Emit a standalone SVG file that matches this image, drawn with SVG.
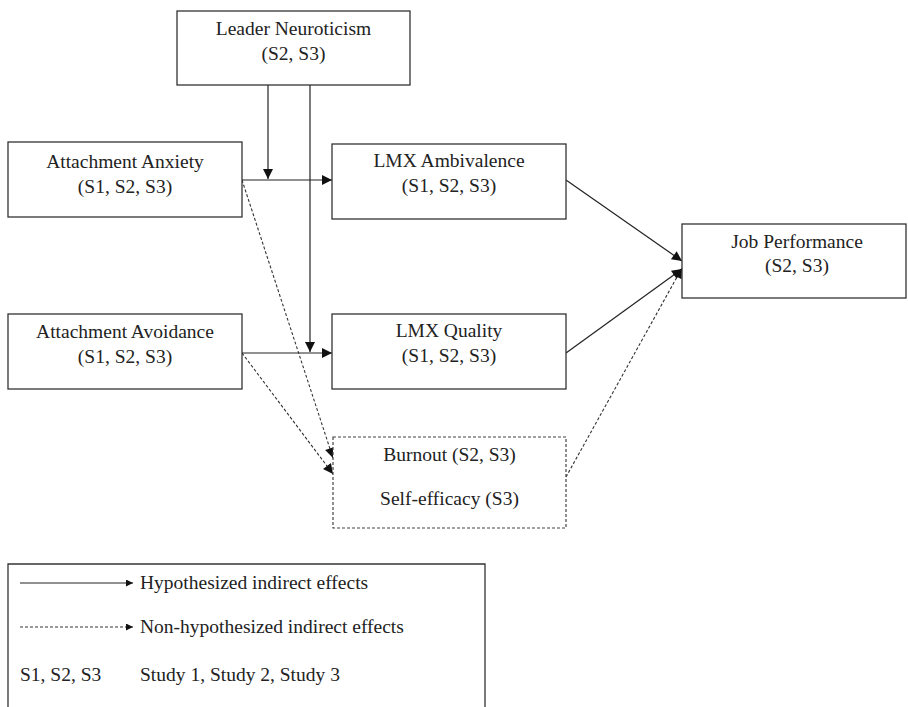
<svg xmlns="http://www.w3.org/2000/svg" width="908" height="707" viewBox="0 0 908 707">
<style>
.box{fill:#fff;stroke:#333;stroke-width:1.3}
.dbox{fill:#fff;stroke:#444;stroke-width:1.2;stroke-dasharray:3 2}
.t{font-family:"Liberation Serif","Times New Roman",serif;font-size:19.5px;fill:#222;text-anchor:middle}
.lt{font-family:"Liberation Serif","Times New Roman",serif;font-size:19.5px;fill:#222}
.c{fill:none;stroke:#222;stroke-width:1.2}
.d{fill:none;stroke:#333;stroke-width:1.1;stroke-dasharray:3 2}
</style>
<defs>
<marker id="ah" viewBox="0 0 10 10" refX="10" refY="5" markerWidth="12" markerHeight="10" markerUnits="userSpaceOnUse" orient="auto">
<path d="M0,0 L10,5 L0,10 z" fill="#111"/>
</marker>
<marker id="ahs" viewBox="0 0 10 10" refX="10" refY="5" markerWidth="9" markerHeight="7" markerUnits="userSpaceOnUse" orient="auto">
<path d="M0,0 L10,5 L0,10 z" fill="#111"/>
</marker>
</defs>
<g id="connectors">
<line class="c" x1="268" y1="85" x2="268" y2="179" marker-end="url(#ah)"/>
<line class="c" x1="310" y1="85" x2="310" y2="352" marker-end="url(#ah)"/>
<line class="c" x1="242" y1="180" x2="332" y2="180" marker-end="url(#ah)"/>
<line class="c" x1="242" y1="353" x2="332" y2="353" marker-end="url(#ah)"/>
<line class="c" x1="566" y1="180" x2="682" y2="261" marker-end="url(#ah)"/>
<line class="c" x1="566" y1="353" x2="682" y2="269" marker-end="url(#ah)"/>
<line class="d" x1="242" y1="180" x2="333" y2="458" marker-end="url(#ah)"/>
<line class="d" x1="242" y1="353" x2="333" y2="474" marker-end="url(#ah)"/>
<line class="d" x1="566" y1="477" x2="682" y2="268" marker-end="url(#ah)"/>
</g>
<g id="leader-neuroticism">
<rect class="box" x="177" y="11" width="233" height="74"/>
<text class="t" x="293.5" y="35">Leader Neuroticism</text>
<text class="t" x="293.5" y="60">(S2, S3)</text>
</g>
<g id="attachment-anxiety">
<rect class="box" x="8" y="142" width="234" height="75"/>
<text class="t" x="125" y="168">Attachment Anxiety</text>
<text class="t" x="125" y="193">(S1, S2, S3)</text>
</g>
<g id="attachment-avoidance">
<rect class="box" x="8" y="314" width="234" height="75"/>
<text class="t" x="125" y="338">Attachment Avoidance</text>
<text class="t" x="125" y="363">(S1, S2, S3)</text>
</g>
<g id="lmx-ambivalence">
<rect class="box" x="332" y="144" width="234" height="75"/>
<text class="t" x="449" y="167">LMX Ambivalence</text>
<text class="t" x="449" y="192">(S1, S2, S3)</text>
</g>
<g id="lmx-quality">
<rect class="box" x="332" y="314" width="234" height="75"/>
<text class="t" x="449" y="337">LMX Quality</text>
<text class="t" x="449" y="362">(S1, S2, S3)</text>
</g>
<g id="burnout-selfefficacy">
<rect class="dbox" x="333" y="437" width="233" height="91"/>
<text class="t" x="449.5" y="461">Burnout (S2, S3)</text>
<text class="t" x="449.5" y="505">Self-efficacy (S3)</text>
</g>
<g id="job-performance">
<rect class="box" x="682" y="224" width="224" height="74"/>
<text class="t" x="797" y="248">Job Performance</text>
<text class="t" x="797" y="272">(S2, S3)</text>
</g>
<g id="legend">
<path class="box" d="M8,712 V564 H485 V712" fill="none"/>
<line class="c" x1="20" y1="583" x2="133" y2="583" marker-end="url(#ahs)"/>
<text class="lt" x="140" y="589">Hypothesized indirect effects</text>
<line class="d" x1="20" y1="627" x2="133" y2="627" marker-end="url(#ahs)"/>
<text class="lt" x="140" y="633">Non-hypothesized indirect effects</text>
<text class="lt" x="20" y="681">S1, S2, S3</text>
<text class="lt" x="140" y="681">Study 1, Study 2, Study 3</text>
</g>
</svg>
